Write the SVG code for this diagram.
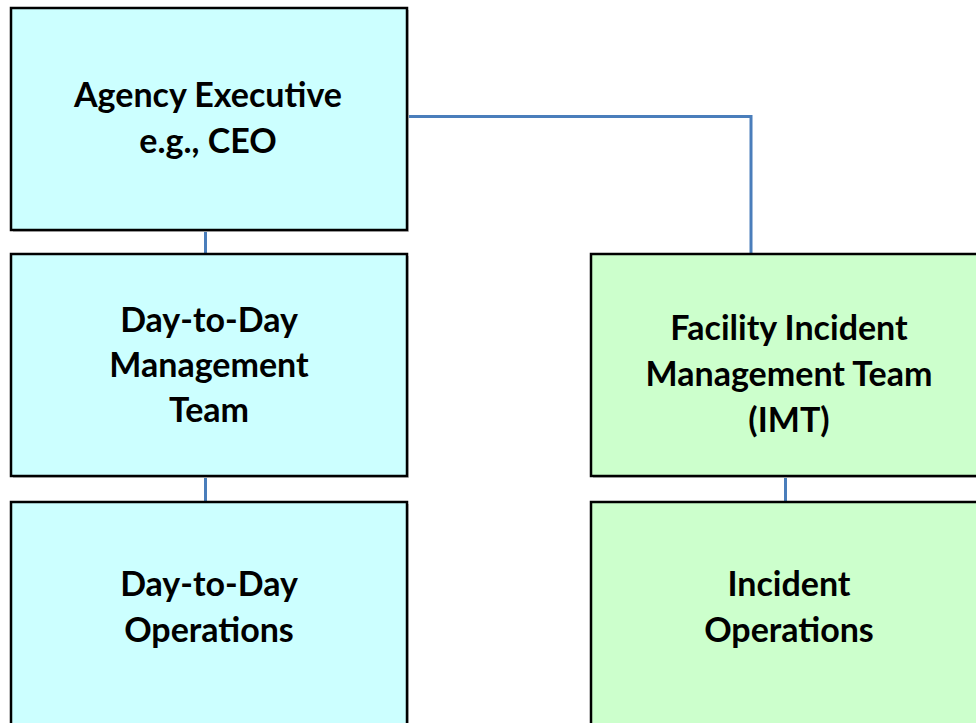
<svg xmlns="http://www.w3.org/2000/svg" width="976" height="723" viewBox="0 0 976 723">
<style>
  .box { stroke: #000; stroke-width: 2.5; }
  .cyan { fill: #CCFFFF; }
  .green { fill: #CCFFCC; }
  .shadow { fill: #C8C8C8; }
  .lbl { font-family: Lato, "Open Sans", "Liberation Sans", sans-serif; font-weight: 700; font-size: 34px; fill: #000; text-anchor: middle; }
  .conn { stroke: #4A7EBB; stroke-width: 3; fill: none; }
</style>
<rect width="976" height="723" fill="#fff"/>
<g id="connectors">
  <line class="conn" x1="205.5" y1="230" x2="205.5" y2="254"/>
  <line class="conn" x1="205.5" y1="476" x2="205.5" y2="502"/>
  <polyline class="conn" points="407,116.5 751,116.5 751,254"/>
  <line class="conn" x1="785.5" y1="476" x2="785.5" y2="502"/>
</g>
<g id="agency-executive">
  <rect class="shadow" x="13" y="10" width="396" height="222"/>
  <rect class="box cyan" x="11" y="8" width="396" height="222"/>
  <text class="lbl" x="208" y="107">Agency Executive</text>
  <text class="lbl" x="208" y="153">e.g., CEO</text>
</g>
<g id="day-to-day-management">
  <rect class="shadow" x="13" y="256" width="396" height="222"/>
  <rect class="box cyan" x="11" y="254" width="396" height="222"/>
  <text class="lbl" x="209" y="332">Day-to-Day</text>
  <text class="lbl" x="209" y="377">Management</text>
  <text class="lbl" x="209" y="422">Team</text>
</g>
<g id="day-to-day-operations">
  <rect class="shadow" x="13" y="504" width="396" height="230"/>
  <rect class="box cyan" x="11" y="502" width="396" height="230"/>
  <text class="lbl" x="209" y="596">Day-to-Day</text>
  <text class="lbl" x="209" y="642">Operations</text>
</g>
<g id="facility-imt">
  <rect class="shadow" x="593" y="256" width="396" height="222"/>
  <rect class="box green" x="591" y="254" width="396" height="222"/>
  <text class="lbl" x="789" y="340">Facility Incident</text>
  <text class="lbl" x="789" y="386">Management Team</text>
  <text class="lbl" x="789" y="432">(IMT)</text>
</g>
<g id="incident-operations">
  <rect class="shadow" x="593" y="504" width="396" height="230"/>
  <rect class="box green" x="591" y="502" width="396" height="230"/>
  <text class="lbl" x="789" y="596">Incident</text>
  <text class="lbl" x="789" y="642">Operations</text>
</g>
</svg>
